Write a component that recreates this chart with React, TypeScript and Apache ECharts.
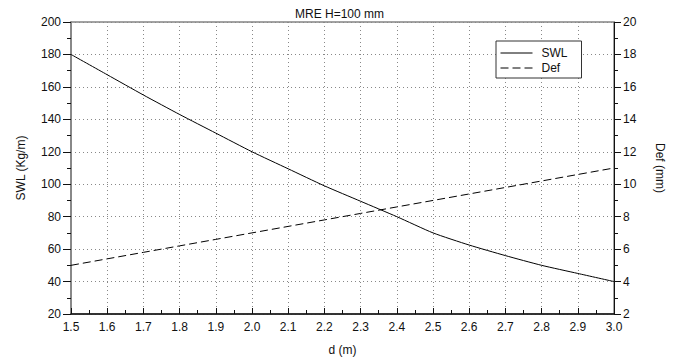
import React, { useEffect, useRef } from "react";
import * as echarts from "echarts";

const dValues = [1.5, 1.6, 1.7, 1.8, 1.9, 2.0, 2.1, 2.2, 2.3, 2.4, 2.5, 2.6, 2.7, 2.8, 2.9, 3.0];
const swlValues = [180, 167.5, 155, 143, 131.5, 120, 109.5, 99, 89.5, 80, 70, 62.5, 56, 50, 45, 40];
const defValues = [5.0, 5.4, 5.8, 6.2, 6.6, 7.0, 7.4, 7.8, 8.2, 8.6, 9.0, 9.4, 9.8, 10.2, 10.6, 11.0];

const FONT = "'Liberation Sans', Arial, Helvetica, sans-serif";

export default function App() {
  const ref = useRef<HTMLDivElement>(null);
  useEffect(() => {
    if (!ref.current) return;
    const chart = echarts.init(ref.current, undefined, { renderer: "svg" });
    const text = { fontFamily: FONT, fontSize: 12, color: "#111" };
    chart.setOption({
      animation: false,
      backgroundColor: "#fff",
      textStyle: { fontFamily: FONT },
      title: {
        text: "MRE H=100 mm",
        left: "center",
        top: 3,
        textStyle: { ...text, fontWeight: "normal" },
      },
      grid: {
        left: 71,
        right: 65,
        top: 22,
        bottom: 44,
        show: true,
        borderColor: "#444",
        borderWidth: 1,
        backgroundColor: "transparent",
      },
      legend: {
        orient: "vertical",
        left: 496,
        top: 41,
        itemWidth: 32,
        itemHeight: 12,
        itemGap: 3,
        padding: [6, 14, 4, 4],
        borderColor: "#333",
        borderWidth: 1,
        backgroundColor: "#fff",
        itemStyle: { color: "transparent", borderColor: "transparent", borderWidth: 0, opacity: 0 },
        lineStyle: { width: 1 },
        textStyle: { ...text, padding: [0, 0, 0, 4] },
        data: ["SWL", "Def"],
      },
      xAxis: {
        type: "value",
        min: 1.5,
        max: 3.0,
        interval: 0.1,
        name: "d (m)",
        nameLocation: "middle",
        nameGap: 30,
        nameTextStyle: text,
        axisLine: { onZero: false, lineStyle: { color: "#111", width: 1.5 } },
        axisTick: { inside: true, length: 6, lineStyle: { color: "#111" } },
        minorTick: { show: true, splitNumber: 2, length: 4, lineStyle: { color: "#111" } },
        axisLabel: {
          ...text,
          margin: 7,
          formatter: (v: number) => v.toFixed(1),
        },
        splitLine: { show: true, lineStyle: { color: "#888", type: [1, 3], width: 1 } },
      },
      yAxis: [
        {
          type: "value",
          min: 20,
          max: 200,
          interval: 20,
          position: "left",
          name: "SWL (Kg/m)",
          nameLocation: "middle",
          nameRotate: 90,
          nameGap: 44,
          nameTextStyle: text,
          axisLine: { show: true, lineStyle: { color: "#888", width: 2 } },
          axisTick: { show: true, length: 8, lineStyle: { color: "#111" } },
          minorTick: { show: true, splitNumber: 2, length: 4, lineStyle: { color: "#111" } },
          axisLabel: { ...text, margin: 10 },
          splitLine: { show: true, lineStyle: { color: "#888", type: [1, 3], width: 1 } },
        },
        {
          type: "value",
          min: 2,
          max: 20,
          interval: 2,
          position: "right",
          name: "Def (mm)",
          nameLocation: "middle",
          nameRotate: -90,
          nameGap: 40,
          nameTextStyle: text,
          axisLine: { show: true, lineStyle: { color: "#111", width: 1 } },
          axisTick: { show: true, length: 7, lineStyle: { color: "#111" } },
          minorTick: { show: true, splitNumber: 2, length: 4, lineStyle: { color: "#111" } },
          axisLabel: { ...text, margin: 9 },
          splitLine: { show: false },
        },
      ],
      series: [
        {
          name: "SWL",
          type: "line",
          yAxisIndex: 0,
          symbol: "none",
          smooth: 0.2,
          data: dValues.map((d, i) => [d, swlValues[i]]),
          lineStyle: { color: "#000", width: 1 },
          itemStyle: { color: "#000" },
        },
        {
          name: "Def",
          type: "line",
          yAxisIndex: 1,
          symbol: "none",
          data: dValues.map((d, i) => [d, defValues[i]]),
          lineStyle: { color: "#000", width: 1, type: [8, 4] },
          itemStyle: { color: "#000" },
        },
      ],
    });
    return () => chart.dispose();
  }, []);
  return <div ref={ref} style={{ width: 679, height: 361, position: "absolute", left: 0, top: 0 }} />;
}
